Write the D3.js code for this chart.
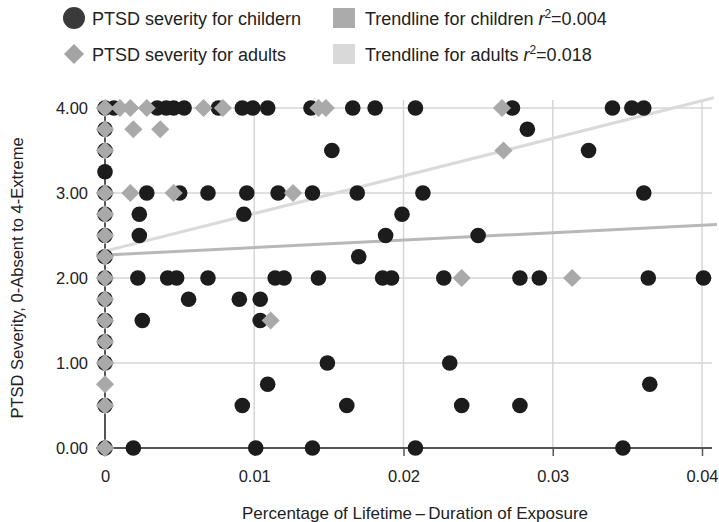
<!DOCTYPE html>
<html>
<head>
<meta charset="utf-8">
<script src="https://cdn.jsdelivr.net/npm/d3@7"></script>
<style>
  body { margin: 0; background: #fff; }
  text { font-family: "Liberation Sans", Arial, sans-serif; fill: #222; }
</style>
</head>
<body>
<script>
var w = 719;
var h = 522;

// exposure (share of lifetime) and PTSD severity
var children = [
    [0, 4], [0, 3.75], [0, 3.5], [0, 3.25], [0, 3], [0, 2.75], [0, 2.5], [0, 2.25],
    [0, 2], [0, 1.75], [0, 1.5], [0, 1.25], [0, 1], [0, 0.5], [0, 0],
    [0.0006, 4], [0.0035, 4], [0.0041, 4], [0.0046, 4], [0.0053, 4], [0.0076, 4],
    [0.0092, 4], [0.0099, 4], [0.0109, 4], [0.0138, 4], [0.0166, 4], [0.0181, 4],
    [0.0208, 4], [0.0273, 4], [0.0340, 4], [0.0353, 4], [0.0361, 4],
    [0.0283, 3.75],
    [0.0152, 3.5], [0.0324, 3.5],
    [0.0028, 3], [0.0050, 3], [0.0069, 3], [0.0095, 3], [0.0116, 3], [0.0139, 3],
    [0.0169, 3], [0.0213, 3], [0.0361, 3],
    [0.0023, 2.75], [0.0093, 2.75], [0.0199, 2.75],
    [0.0023, 2.5], [0.0188, 2.5], [0.0250, 2.5],
    [0.0170, 2.25],
    [0.0022, 2], [0.0042, 2], [0.0048, 2], [0.0069, 2], [0.0114, 2], [0.0120, 2],
    [0.0143, 2], [0.0186, 2], [0.0192, 2], [0.0227, 2], [0.0278, 2], [0.0291, 2],
    [0.0364, 2], [0.0401, 2],
    [0.0056, 1.75], [0.0090, 1.75], [0.0104, 1.75],
    [0.0025, 1.5], [0.0104, 1.5],
    [0.0149, 1], [0.0231, 1],
    [0.0109, 0.75], [0.0365, 0.75],
    [0.0092, 0.5], [0.0162, 0.5], [0.0239, 0.5], [0.0278, 0.5],
    [0.0019, 0], [0.0101, 0], [0.0139, 0], [0.0208, 0], [0.0347, 0]
];

var adults = [
    [0, 4], [0, 3.75], [0, 3.5], [0, 3], [0, 2.75], [0, 2.5], [0, 2.25], [0, 2],
    [0, 1.75], [0, 1.5], [0, 1.25], [0, 1], [0, 0.75], [0, 0.5], [0, 0],
    [0.0010, 4], [0.0017, 4], [0.0028, 4], [0.0066, 4], [0.0079, 4], [0.0143, 4],
    [0.0148, 4], [0.0266, 4],
    [0.0019, 3.75], [0.0037, 3.75],
    [0.0267, 3.5],
    [0.0017, 3], [0.0046, 3], [0.0126, 3],
    [0.0239, 2], [0.0313, 2],
    [0.0111, 1.5]
];

// trendline end points
var trendChildren = [[-0.0006, 2.265], [0.041, 2.63]];
var trendAdults = [[-0.0006, 2.29], [0.0408, 4.12]];

var xTicks = [0, 0.01, 0.02, 0.03, 0.04];
var yTicks = [0, 1, 2, 3, 4];

var xScale = d3.scaleLinear().domain([0, 0.04]).range([105, 702]);
var yScale = d3.scaleLinear().domain([0, 4]).range([448, 108]);

var svg = d3.select("body")
    .append("svg")
    .attr("width", w)
    .attr("height", h);

/* gridlines */
svg.append("g")
    .selectAll("line")
    .data(yTicks.slice(1))
    .enter()
    .append("line")
    .attr("x1", 96).attr("x2", 712)
    .attr("y1", function(d){ return yScale(d); })
    .attr("y2", function(d){ return yScale(d); })
    .attr("stroke", "#d6d6d6")
    .attr("stroke-width", 1.5);

svg.append("g")
    .selectAll("line")
    .data(xTicks.slice(1))
    .enter()
    .append("line")
    .attr("x1", function(d){ return xScale(d); })
    .attr("x2", function(d){ return xScale(d); })
    .attr("y1", 100).attr("y2", 448)
    .attr("stroke", "#d6d6d6")
    .attr("stroke-width", 1.5);

/* axes */
var xAxis = d3.axisBottom(xScale)
    .tickValues(xTicks)
    .tickSize(8)
    .tickPadding(14)
    .tickFormat(function(d){ return d === 0 ? "0" : d3.format(".2f")(d); });

var yAxis = d3.axisLeft(yScale)
    .tickValues(yTicks)
    .tickSize(8)
    .tickPadding(9)
    .tickFormat(d3.format(".2f"));

var gx = svg.append("g")
    .attr("transform", "translate(0," + yScale(0) + ")")
    .call(xAxis);
gx.select(".domain").remove();

var gy = svg.append("g")
    .attr("transform", "translate(" + xScale(0) + ",0)")
    .call(yAxis);
gy.select(".domain").remove();

svg.selectAll(".tick line").attr("stroke", "#555").attr("stroke-width", 1.5);
svg.selectAll(".tick text")
    .style("font-family", "'Liberation Sans', Arial, sans-serif")
    .style("font-size", "16.5px")
    .attr("fill", "#222");

svg.append("line")
    .attr("x1", 96).attr("x2", 712)
    .attr("y1", yScale(0)).attr("y2", yScale(0))
    .attr("stroke", "#555").attr("stroke-width", 2);

svg.append("line")
    .attr("x1", xScale(0)).attr("x2", xScale(0))
    .attr("y1", 100).attr("y2", 456)
    .attr("stroke", "#555").attr("stroke-width", 2);

/* trendlines */
var line = d3.line()
    .x(function(d){ return xScale(d[0]); })
    .y(function(d){ return yScale(d[1]); });

svg.append("path")
    .attr("d", line(trendAdults))
    .attr("fill", "none")
    .attr("stroke", "#dadada")
    .attr("stroke-width", 3);

svg.append("path")
    .attr("d", line(trendChildren))
    .attr("fill", "none")
    .attr("stroke", "#b8b8b8")
    .attr("stroke-width", 3);

/* points: circles first, diamonds on top */
svg.append("g")
    .selectAll("circle")
    .data(children)
    .enter()
    .append("circle")
    .attr("cx", function(d){ return xScale(d[0]); })
    .attr("cy", function(d){ return yScale(d[1]); })
    .attr("r", 7.8)
    .attr("fill", "#1c1c1c");

var diamond = d3.symbol().type(d3.symbolSquare).size(165);

svg.append("g")
    .selectAll("path")
    .data(adults)
    .enter()
    .append("path")
    .attr("d", diamond)
    .attr("transform", function(d){
        return "translate(" + xScale(d[0]) + "," + yScale(d[1]) + ") rotate(45)";
    })
    .attr("fill", "#a9a9a9");

/* axis titles */
svg.append("text")
    .attr("x", 415)
    .attr("y", 519)
    .attr("text-anchor", "middle")
    .style("font-size", "17px")
    .text("Percentage of Lifetime\u2009\u2013\u2009Duration of Exposure");

svg.append("text")
    .attr("transform", "translate(23," + 278 + ") rotate(-90)")
    .attr("text-anchor", "middle")
    .style("font-size", "16.5px")
    .text("PTSD Severity, 0-Absent to 4-Extreme");

/* legend */
var legend = svg.append("g");

legend.append("circle")
    .attr("cx", 74).attr("cy", 18).attr("r", 11)
    .attr("fill", "#3a3a3a");
legend.append("text")
    .attr("x", 92).attr("y", 25)
    .style("font-size", "18px")
    .text("PTSD severity for childern");

legend.append("path")
    .attr("d", d3.symbol().type(d3.symbolSquare).size(200))
    .attr("transform", "translate(74,54) rotate(45)")
    .attr("fill", "#a3a3a3");
legend.append("text")
    .attr("x", 92).attr("y", 61)
    .style("font-size", "18px")
    .text("PTSD severity for adults");

legend.append("rect")
    .attr("x", 333).attr("y", 8).attr("width", 22).attr("height", 20)
    .attr("fill", "#ababab");
var t1 = legend.append("text")
    .attr("x", 365).attr("y", 25)
    .style("font-size", "18px");
t1.append("tspan").text("Trendline for children ");
t1.append("tspan").style("font-style", "italic").text("r");
t1.append("tspan").attr("dy", -7).style("font-size", "12px").text("2");
t1.append("tspan").attr("dy", 7).text("=0.004");

legend.append("rect")
    .attr("x", 333).attr("y", 44).attr("width", 22).attr("height", 20)
    .attr("fill", "#d9d9d9");
var t2 = legend.append("text")
    .attr("x", 365).attr("y", 61)
    .style("font-size", "18px");
t2.append("tspan").text("Trendline for adults ");
t2.append("tspan").style("font-style", "italic").text("r");
t2.append("tspan").attr("dy", -7).style("font-size", "12px").text("2");
t2.append("tspan").attr("dy", 7).text("=0.018");
</script>
</body>
</html>
